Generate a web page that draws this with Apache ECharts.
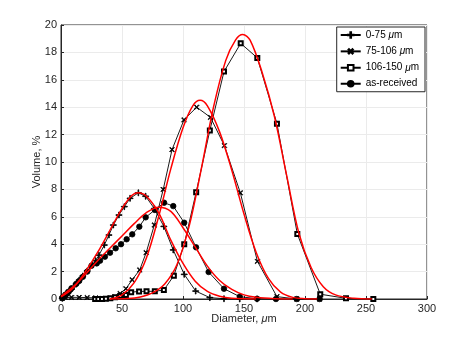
<!DOCTYPE html>
<html>
<head>
<meta charset="utf-8">
<script src="https://cdn.jsdelivr.net/npm/echarts@6/dist/echarts.min.js"></script>
<style>
html, body { margin: 0; padding: 0; background: #fff; }
#chart { width: 472px; height: 337px; }
</style>
</head>
<body>
<div id="chart"></div>
<script>
// measured points [diameter um, volume %]
var fine = [[1.0,0.05],[1.5,0.08],[2.1,0.12],[2.8,0.18],[3.7,0.25],[4.9,0.35],[5.9,0.45],[7.1,0.58],[8.6,0.72],
    [10.3,0.9],[12.4,1.1],[14.9,1.38],[17.9,1.68],[21.5,2.05],[25.9,2.5],[28.4,2.8],[31.1,3.2],[35.5,3.94],
    [39.3,4.67],[42.9,5.4],[47.5,6.13],[51.9,6.74],[56.6,7.35],[63.4,7.75],[69.4,7.5],[76.5,6.6],[84.3,5.3],
    [92.0,3.58],[101,1.8],[110.4,0.58],[122,0.1],[133.6,0.02],[146.5,0],[160.7,0]];
var mid = [[1.0,0.05],[3.7,0.1],[8.6,0.12],[14.9,0.12],[21.5,0.1],[28.4,0.08],[33.6,0.05],[36.8,0.03],[40.4,0.05],
    [44.3,0.15],[48.5,0.4],[53.2,0.75],[58.3,1.4],[64.5,2.12],[69.8,3.38],[76.5,5.4],[83.8,8.0],[91.0,10.9],
    [100.8,13.07],[111.2,14.0],[122.5,13.26],[133.9,11.2],[147,7.75],[161,2.75],[177,0.17],[193.3,0],[212,0]];
var coarse = [[28,0],[30.6,0],[33.6,0],[36.8,0.02],[40.4,0.05],[44.3,0.12],[48.5,0.22],[53.2,0.3],[57.5,0.5],
    [64,0.55],[70.1,0.56],[76.9,0.56],[84.3,0.66],[92.5,1.7],[101,4.0],[110.8,7.8],[122,12.3],[133.6,16.6],
    [147.3,18.66],[160.9,17.6],[177,12.8],[193.7,4.75],[212.5,0.35],[233.6,0.05],[256,0]];
var received = [[1.0,0.08],[2.1,0.18],[3.7,0.32],[5.9,0.52],[8.6,0.78],[12.4,1.1],[14.9,1.32],[17.9,1.62],
    [21.5,2.0],[25.0,2.43],[29.3,2.6],[32.0,2.8],[36.0,3.09],[40.2,3.38],[44.8,3.7],[49.2,4.0],[53.8,4.36],
    [58.4,4.72],[64.2,5.28],[69.4,5.96],[76.9,6.5],[84.5,7.03],[92.0,6.78],[101,5.57],[110.7,3.77],[121,1.97],
    [133.6,0.75],[146.5,0.17],[160.7,0.02],[176.2,0],[193.3,0],[212,0]];

// fitted curves
var fitFine = [[0,0.15],[10,0.8],[20,2.0],[30,3.4],[40,5.0],[50,6.6],[58,7.55],[63,7.75],[70,7.5],[80,6.3],
    [90,4.3],[100,2.6],[110,1.3],[120,0.55],[130,0.2],[140,0.05],[160,0]];
var fitReceived = [[0,0.2],[10,0.9],[20,1.8],[30,2.8],[40,3.7],[50,4.6],[60,5.5],[70,6.3],[80,6.7],[90,6.4],
    [100,5.2],[110,3.8],[120,2.4],[130,1.35],[140,0.7],[150,0.3],[160,0.12],[175,0.02],[190,0]];
var fitMid = [[40,0],[50,0.3],[60,1.2],[70,3.0],[80,6.0],[90,9.5],[100,12.5],[108,14.1],[114,14.5],[120,14.1],
    [130,12.2],[140,9.4],[150,6.2],[160,3.4],[170,1.5],[180,0.5],[190,0.12],[200,0.02],[210,0]];
var fitCoarse = [[40,0],[55,0.03],[65,0.15],[75,0.45],[85,1.1],[95,2.5],[105,5.3],[115,9.5],[125,14.0],
    [135,17.4],[143,18.9],[149,19.3],[155,18.9],[165,16.5],[175,13.3],[185,9.0],[195,4.8],[205,2.3],
    [215,0.9],[225,0.3],[240,0.05],[255,0]];

var names = ['0-75 {i|μ}m', '75-106 {i|μ}m', '106-150 {i|μ}m', 'as-received'];

var plusPath = 'path://M4.4,0H5.6V4.4H10V5.6H5.6V10H4.4V5.6H0V4.4H4.4Z';
var axisCol = '#262626';

function dataSeries(name, data, symbol, size, rotate) {
    return {
        name: name, type: 'line', data: data,
        symbol: symbol, symbolSize: size, symbolRotate: rotate || 0,
        showAllSymbol: true,
        itemStyle: { color: '#000', borderColor: '#000', borderWidth: 0.8 },
        lineStyle: { color: '#000', width: 0.9 },
        z: 2
    };
}
function fitSeries(data) {
    return {
        type: 'line', data: data, smooth: 0.35, symbol: 'none',
        lineStyle: { color: '#ff0000', width: 1.5 }, z: 3, silent: true
    };
}

var myChart = echarts.init(document.getElementById('chart'));
var option = {
    animation: false,
    backgroundColor: '#fff',
    textStyle: { fontFamily: 'Liberation Sans, Arial, sans-serif' },
    grid: { left: 61, top: 25, right: 45, bottom: 38, show: true, borderColor: axisCol, borderWidth: 1 },
    legend: {
        right: 47, top: 27, orient: 'vertical',
        data: names,
        itemWidth: 20, itemHeight: 7, itemGap: 6,
        padding: [3, 6, 3, 3],
        borderColor: axisCol, borderWidth: 1, backgroundColor: '#fff',
        textStyle: { fontSize: 10, color: '#000', rich: { i: { fontStyle: 'italic', fontSize: 10, color: '#000' } } }
    },
    xAxis: {
        type: 'value', min: 0, max: 300, interval: 50,
        name: 'Diameter, {i|μ}m', nameLocation: 'middle', nameGap: 14, nameMoveOverlap: false,
        nameTextStyle: { fontSize: 11, color: axisCol, rich: { i: { fontStyle: 'italic', fontSize: 11, color: axisCol } } },
        axisLine: { lineStyle: { color: axisCol } },
        axisTick: { inside: true, length: 3, lineStyle: { color: axisCol } },
        axisLabel: { fontSize: 11, color: axisCol, margin: 4 },
        splitLine: { lineStyle: { color: '#ebebeb' } }
    },
    yAxis: {
        type: 'value', min: 0, max: 20, interval: 2,
        name: 'Volume, %', nameLocation: 'middle', nameGap: 19, nameRotate: 90, nameMoveOverlap: false,
        nameTextStyle: { fontSize: 11, color: axisCol },
        axisLine: { show: true, lineStyle: { color: axisCol } },
        axisTick: { show: true, inside: true, length: 3, lineStyle: { color: axisCol } },
        axisLabel: { fontSize: 11, color: axisCol, margin: 4 },
        splitLine: { lineStyle: { color: '#ebebeb' } }
    },
    series: [
        dataSeries(names[0], fine, plusPath, 6),
        dataSeries(names[1], mid, plusPath, 6, 45),
        dataSeries(names[2], coarse, 'emptyRect', 4),
        dataSeries(names[3], received, 'circle', 5.5),
        fitSeries(fitFine),
        fitSeries(fitReceived),
        fitSeries(fitMid),
        fitSeries(fitCoarse)
    ]
};
myChart.setOption(option);
</script>
</body>
</html>
